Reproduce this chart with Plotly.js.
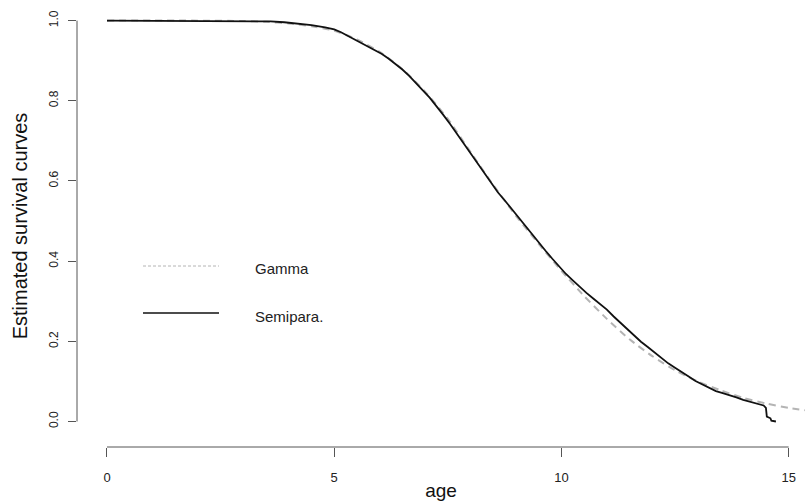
<!DOCTYPE html>
<html>
<head>
<meta charset="utf-8">
<script src="https://cdn.plot.ly/plotly-3.0.1.min.js"></script>
<style>html,body{margin:0;padding:0;background:#fff;}#chart{width:805px;height:502px;}</style>
</head>
<body>
<div id="chart"></div>
<script>
// Semiparametric (step-like) estimate
const semiAge = [0, 3.2, 3.6, 3.9, 4.2, 4.5, 4.8, 5.0, 5.15, 5.3, 5.45, 5.6, 5.75, 5.9, 6.05, 6.2, 6.35, 6.5, 6.65, 6.8, 6.95, 7.1, 7.25, 7.4, 7.55, 7.7, 7.85, 8.0, 8.15, 8.3, 8.45, 8.6, 8.75, 8.9, 9.05, 9.2, 9.35, 9.5, 9.65, 9.8, 9.95, 10.1, 10.25, 10.4, 10.55, 10.7, 10.85, 11.0, 11.15, 11.3, 11.45, 11.6, 11.75, 11.9, 12.05, 12.2, 12.35, 12.5, 12.65, 12.8, 12.95, 13.1, 13.25, 13.4, 13.55, 13.7, 13.85, 14.0, 14.15, 14.3, 14.45, 14.5, 14.52, 14.6, 14.62, 14.72];
const semiSurv = [1.0, 0.999, 0.998, 0.996, 0.993, 0.989, 0.983, 0.978, 0.971, 0.962, 0.952, 0.942, 0.934, 0.926, 0.917, 0.905, 0.892, 0.878, 0.862, 0.845, 0.826, 0.808, 0.787, 0.765, 0.742, 0.718, 0.694, 0.668, 0.643, 0.619, 0.595, 0.572, 0.552, 0.531, 0.509, 0.488, 0.466, 0.446, 0.426, 0.406, 0.387, 0.368, 0.352, 0.336, 0.321, 0.307, 0.294, 0.279, 0.262, 0.246, 0.230, 0.215, 0.199, 0.186, 0.172, 0.158, 0.145, 0.134, 0.122, 0.112, 0.101, 0.092, 0.083, 0.076, 0.071, 0.066, 0.060, 0.054, 0.049, 0.045, 0.040, 0.034, 0.012, 0.008, 0.002, 0.0];

// Gamma (parametric) estimate
const gammaAge = [0, 2, 3, 3.5, 4, 4.5, 5, 5.5, 6, 6.5, 7, 7.5, 8, 8.5, 9, 9.5, 10, 10.5, 11, 11.5, 12, 12.5, 13, 13.5, 14, 14.5, 15, 15.5];
const gammaSurv = [1.0, 1.0, 0.999, 0.997, 0.993, 0.986, 0.975, 0.953, 0.922, 0.879, 0.823, 0.755, 0.672, 0.59, 0.513, 0.443, 0.376, 0.313, 0.256, 0.205, 0.163, 0.128, 0.1, 0.078, 0.059, 0.045, 0.034, 0.026];

const xTicks = [0, 5, 10, 15];
const yTicks = [0, 0.2, 0.4, 0.6, 0.8, 1.0];
const legendLabels = ["Gamma", "Semipara."];

const font = "Liberation Sans, Arial, sans-serif";
const axisCol = "#555";

const traces = [
  {x: gammaAge, y: gammaSurv, type: "scatter", mode: "lines", line: {color: "#b4b4b4", width: 2, dash: "7px,5px", shape: "spline", smoothing: 0.6}, showlegend: false, hoverinfo: "skip"},
  {x: semiAge, y: semiSurv, type: "scatter", mode: "lines", line: {color: "#111", width: 1.8, shape: "linear"}, showlegend: false, hoverinfo: "skip"}
];

const px = v => (v - 77) / 728;
const py = v => (447 - v) / 442;

const layout = {
  width: 805, height: 502,
  margin: {l: 77, r: 0, t: 5, b: 55},
  paper_bgcolor: "#fff", plot_bgcolor: "#fff",
  font: {family: font, color: "#222", size: 13},
  xaxis: {
    range: [-0.66, 15.36], tickvals: xTicks, ticktext: xTicks.map(String),
    showgrid: false, zeroline: false, showline: false,
    ticks: "outside", ticklen: 9, tickcolor: axisCol, tickwidth: 1,
    tickfont: {size: 13, color: "#222"}, ticklabelstandoff: 9,
    title: {text: "age", font: {size: 19, color: "#111"}, standoff: 0}
  },
  yaxis: {
    range: [-0.0636, 1.039], tickvals: yTicks, ticktext: yTicks.map(v => v.toFixed(1)),
    showgrid: false, zeroline: false, showline: false,
    ticks: "outside", ticklen: 8, tickcolor: axisCol, tickwidth: 1, tickangle: -90,
    tickfont: {size: 12, color: "#222"}, ticklabelstandoff: 5,
    title: {text: "Estimated survival curves", font: {size: 20, color: "#111"}, standoff: 14}
  },
  shapes: [
    {type: "line", xref: "x", yref: "paper", x0: xTicks[0], x1: xTicks[xTicks.length - 1], y0: 0, y1: 0, line: {color: axisCol, width: 1}},
    {type: "line", xref: "paper", yref: "y", x0: 0, x1: 0, y0: yTicks[0], y1: yTicks[yTicks.length - 1], line: {color: axisCol, width: 1}},
    {type: "line", xref: "paper", yref: "paper", x0: px(143), x1: px(219), y0: py(266), y1: py(266), line: {color: "#b4b4b4", width: 1, dash: "3px,2px"}},
    {type: "line", xref: "paper", yref: "paper", x0: px(143), x1: px(219), y0: py(313), y1: py(313), line: {color: "#111", width: 1.5}}
  ],
  annotations: [
    {xref: "paper", yref: "paper", x: px(253), y: py(268), text: legendLabels[0], showarrow: false, xanchor: "left", yanchor: "middle", font: {size: 15, color: "#222"}},
    {xref: "paper", yref: "paper", x: px(253), y: py(317), text: legendLabels[1], showarrow: false, xanchor: "left", yanchor: "middle", font: {size: 15, color: "#222"}}
  ]
};

Plotly.newPlot("chart", traces, layout, {staticPlot: true, displayModeBar: false});
</script>
</body>
</html>
